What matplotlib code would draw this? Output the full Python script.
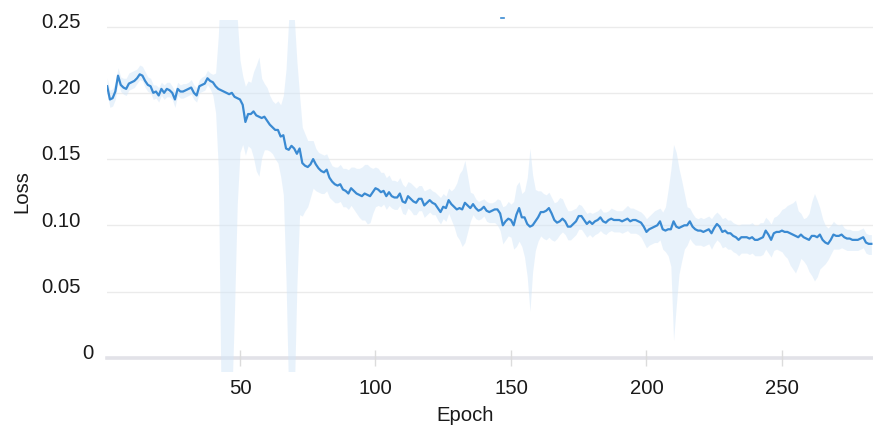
import numpy as np
import matplotlib
matplotlib.use("Agg")
import matplotlib.pyplot as plt
from matplotlib import transforms
from matplotlib.lines import Line2D

plt.rcParams["font.family"] = ["Liberation Sans", "DejaVu Sans"]

# Mean training loss per epoch
loss = [
    .205, .195, .196, .201, .213, .206, .204, .203, .207, .208,
    .209, .211, .214, .213, .209, .206, .205, .200, .201, .198,
    .203, .200, .203, .202, .200, .195, .203, .201, .201, .202,
    .203, .204, .200, .198, .205, .206, .207, .211, .209, .208,
    .205, .203, .202, .201, .200, .199, .200, .197, .196, .195,
    .191, .178, .184, .184, .186, .183, .182, .181, .182, .179,
    .176, .174, .172, .172, .167, .168, .158, .157, .160, .158,
    .154, .158, .147, .145, .144, .146, .150, .146, .143, .141,
    .140, .142, .136, .133, .131, .130, .131, .127, .126, .124,
    .128, .126, .124, .123, .122, .124, .123, .122, .125, .128,
    .127, .125, .126, .122, .125, .122, .121, .121, .124, .118,
    .117, .122, .120, .118, .117, .120, .120, .115, .117, .119,
    .117, .116, .113, .110, .114, .113, .119, .116, .114, .112,
    .113, .112, .117, .115, .113, .116, .113, .111, .112, .114,
    .111, .110, .111, .112, .112, .109, .100, .103, .105, .104,
    .100, .108, .113, .106, .106, .101, .099, .100, .103, .106,
    .110, .110, .111, .113, .109, .104, .102, .103, .105, .103,
    .099, .099, .101, .103, .107, .107, .104, .101, .103, .101,
    .103, .104, .106, .103, .102, .104, .105, .104, .104, .104,
    .103, .104, .105, .103, .104, .104, .103, .102, .099, .095,
    .097, .098, .099, .100, .103, .097, .096, .097, .097, .103,
    .099, .098, .099, .100, .100, .103, .099, .097, .096, .096,
    .095, .096, .097, .094, .098, .101, .099, .095, .096, .094,
    .094, .092, .091, .089, .091, .091, .091, .090, .091, .089,
    .089, .090, .091, .096, .093, .089, .094, .095, .095, .096,
    .095, .095, .094, .093, .092, .091, .093, .091, .090, .089,
    .092, .092, .091, .093, .089, .087, .086, .089, .093, .092,
    .092, .093, .091, .090, .090, .089, .089, .089, .090, .091,
    .087, .086, .086,
]

# Spread above the mean per epoch
spread_up = [
    .006, .007, .007, .007, .006, .006, .007, .008, .008, .008,
    .008, .007, .007, .007, .007, .006, .006, .006, .005, .006,
    .005, .006, .005, .006, .005, .006, .005, .005, .006, .005,
    .005, .006, .006, .006, .005, .006, .006, .006, .006, .006,
    .010, .040, .090, .090, .090, .090, .090, .090, .060, .030,
    .022, .027, .025, .024, .030, .038, .045, .030, .025, .025,
    .022, .020, .020, .022, .024, .030, .060, .100, .100, .100,
    .070, .040, .027, .024, .020, .018, .014, .012, .012, .013,
    .013, .012, .013, .012, .013, .014, .015, .016, .017, .018,
    .016, .018, .019, .020, .022, .022, .023, .022, .018, .016,
    .016, .015, .014, .014, .013, .012, .013, .012, .012, .013,
    .012, .011, .012, .012, .011, .010, .010, .011, .010, .009,
    .009, .009, .010, .011, .010, .009, .009, .010, .014, .020,
    .026, .030, .032, .022, .012, .008, .007, .007, .007, .006,
    .007, .007, .006, .006, .008, .010, .014, .012, .013, .012,
    .018, .022, .020, .018, .020, .035, .059, .038, .024, .020,
    .016, .014, .012, .012, .012, .013, .016, .018, .015, .012,
    .012, .012, .011, .010, .009, .008, .008, .008, .007, .008,
    .007, .007, .007, .007, .008, .007, .008, .008, .007, .007,
    .008, .009, .010, .010, .009, .008, .008, .008, .009, .010,
    .010, .011, .012, .012, .010, .013, .018, .030, .045, .058,
    .056, .045, .035, .024, .014, .010, .010, .009, .009, .010,
    .010, .010, .010, .011, .010, .009, .009, .010, .010, .010,
    .010, .010, .010, .011, .010, .010, .010, .011, .011, .011,
    .011, .012, .011, .010, .011, .012, .012, .012, .014, .016,
    .018, .020, .022, .024, .027, .020, .016, .014, .016, .020,
    .026, .032, .028, .020, .016, .013, .012, .011, .010, .009,
    .008, .008, .007, .007, .007, .007, .007, .007, .007, .007,
    .007, .007, .007,
]

# Spread below the mean per epoch
spread_down = [
    .006, .006, .006, .006, .005, .005, .005, .005, .005, .005,
    .005, .004, .004, .004, .005, .005, .005, .005, .005, .005,
    .005, .005, .006, .005, .005, .006, .005, .005, .005, .005,
    .005, .005, .005, .005, .005, .005, .005, .005, .006, .010,
    .020, .060, .230, .230, .230, .230, .230, .160, .080, .040,
    .030, .025, .024, .026, .035, .042, .045, .030, .025, .022,
    .020, .020, .022, .025, .030, .045, .100, .190, .190, .190,
    .100, .050, .040, .034, .030, .025, .022, .020, .018, .017,
    .016, .016, .015, .014, .014, .013, .013, .013, .012, .012,
    .013, .014, .015, .017, .018, .020, .022, .020, .016, .014,
    .012, .011, .010, .010, .010, .009, .009, .009, .009, .009,
    .009, .009, .009, .010, .009, .009, .009, .009, .009, .009,
    .009, .008, .009, .009, .009, .010, .010, .012, .015, .020,
    .024, .028, .030, .020, .010, .008, .008, .007, .007, .007,
    .008, .008, .009, .010, .012, .013, .014, .014, .013, .013,
    .018, .024, .025, .022, .030, .040, .064, .035, .022, .018,
    .018, .020, .022, .022, .020, .016, .012, .010, .010, .010,
    .010, .010, .010, .010, .010, .010, .010, .010, .010, .010,
    .010, .010, .010, .009, .009, .009, .009, .009, .009, .009,
    .009, .009, .009, .009, .010, .010, .010, .011, .012, .012,
    .012, .012, .012, .013, .014, .015, .016, .020, .028, .090,
    .060, .035, .026, .018, .015, .013, .012, .012, .011, .011,
    .011, .011, .011, .012, .012, .012, .012, .012, .012, .012,
    .012, .012, .012, .012, .012, .012, .012, .012, .012, .012,
    .012, .013, .013, .014, .014, .013, .013, .013, .014, .016,
    .018, .020, .024, .026, .028, .022, .018, .018, .020, .024,
    .030, .034, .030, .026, .020, .016, .012, .011, .011, .010,
    .010, .010, .009, .009, .009, .008, .008, .008, .008, .008,
    .008, .008, .008,
]

x_ticks = [50, 100, 150, 200, 250]
y_ticks = [0, 0.05, 0.10, 0.15, 0.20, 0.25]
y_tick_labels = ["0", "0.05", "0.10", "0.15", "0.20", "0.25"]

W, H = 873, 432
fig = plt.figure(figsize=(W / 100, H / 100), dpi=100)
ax = fig.add_axes([107.2 / W, 1 - 371 / H, 1 - 107.2 / W, (371 - 20) / H])

epochs = np.arange(1, len(loss) + 1)
mean = np.array(loss)
upper = mean + np.array(spread_up)
lower = mean - np.array(spread_down)

line_color = "#3a8ad2"
ax.fill_between(epochs, lower, upper, color="#d3e6f8", alpha=0.5, lw=0, zorder=2)
ax.plot(epochs, mean, color=line_color, lw=1.6, zorder=3, solid_joinstyle="round")

ax.set_xlim(1, 283.6)
ax.set_ylim(-0.01, 0.255)

# horizontal grid
for y in y_ticks[1:]:
    ax.axhline(y, color="#ebebeb", lw=1, zorder=1)

for side in ["top", "right", "left"]:
    ax.spines[side].set_visible(False)
ax.spines["bottom"].set_position(("data", 0))
ax.spines["bottom"].set_color("#e2e2e8")
ax.spines["bottom"].set_linewidth(2.6)
ax.spines["bottom"].set_zorder(1.5)

ax.set_xticks(x_ticks)
ax.set_xticklabels([str(t) for t in x_ticks])
ax.tick_params(axis="x", direction="inout", length=12, width=1, color="#dcdcdc",
               pad=9, labelsize=14.6, labelcolor="#1a1a1a")
ax.set_yticks([])

# y tick labels, sitting just above their grid lines
ytrans = ax.get_yaxis_transform() + transforms.ScaledTranslation(0, -1.3 / 100, fig.dpi_scale_trans)
for val, lab in zip(y_ticks, y_tick_labels):
    xpos = -0.0185 if lab == "0" else -0.0342
    ax.text(xpos, val, lab, transform=ytrans, ha="right", va="baseline",
            fontsize=14.6, color="#1a1a1a")

ax.text(0.467, -0.142, "Epoch", transform=ax.transAxes, ha="center", va="baseline",
        fontsize=14.6, color="#1a1a1a")
ax.text(-0.1043, 0.5108, "Loss", transform=ax.transAxes, rotation=90, rotation_mode="anchor",
        ha="center", va="baseline", fontsize=14.6, color="#1a1a1a")

# small series swatch at the top
fig.add_artist(Line2D([501.5 / W, 504 / W], [1 - 18 / H, 1 - 18 / H], transform=fig.transFigure,
                      color=line_color, lw=1.2))

fig.savefig("out.png", dpi=100)
